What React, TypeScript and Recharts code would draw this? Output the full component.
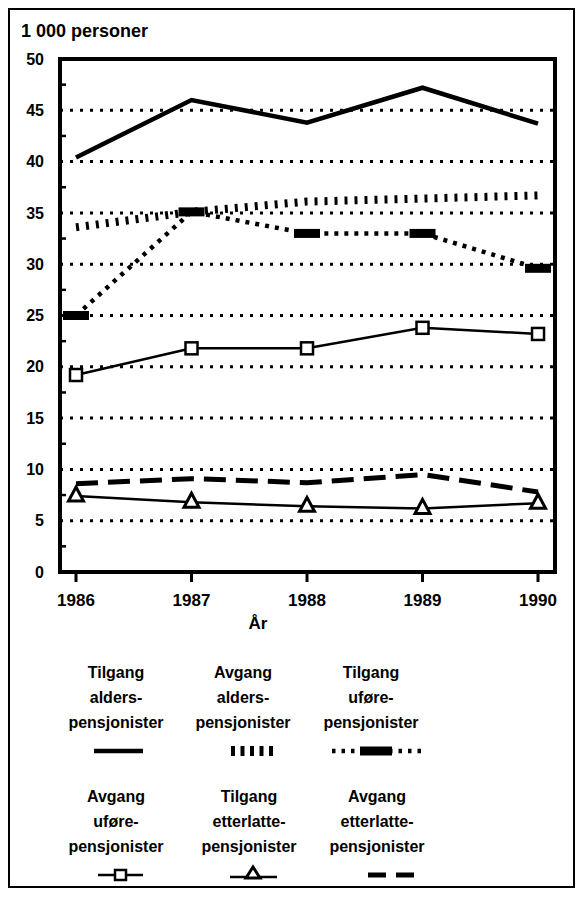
import React from 'react';
import { LineChart, Line, XAxis, YAxis, ReferenceLine, ReferenceArea } from 'recharts';

const years = [1986, 1987, 1988, 1989, 1990];
const tilgangAlders = [40.4, 46.0, 43.8, 47.2, 43.7];
const avgangAlders = [33.6, 35.1, 36.1, 36.4, 36.7];
const tilgangUfore = [25.0, 35.1, 33.0, 33.0, 29.6];
const avgangUfore = [19.2, 21.8, 21.8, 23.8, 23.2];
const tilgangEtterlatte = [7.4, 6.8, 6.4, 6.2, 6.7];
const avgangEtterlatte = [8.6, 9.1, 8.7, 9.5, 7.8];

const yTicks = [0, 2.5, 5, 7.5, 10, 12.5, 15, 17.5, 20, 22.5, 25, 27.5, 30, 32.5, 35, 37.5, 40, 42.5, 45, 47.5, 50];
const gridValues = [5, 10, 15, 20, 25, 30, 35, 40, 45];
const unitLabel = '1 000 personer';
const xTitle = 'År';

const legendLabels = [
  ['Tilgang', 'alders-', 'pensjonister'],
  ['Avgang', 'alders-', 'pensjonister'],
  ['Tilgang', 'uføre-', 'pensjonister'],
  ['Avgang', 'uføre-', 'pensjonister'],
  ['Tilgang', 'etterlatte-', 'pensjonister'],
  ['Avgang', 'etterlatte-', 'pensjonister'],
];

const data = years.map((y, i) => ({
  year: y,
  ta: tilgangAlders[i],
  aa: avgangAlders[i],
  tu: tilgangUfore[i],
  au: avgangUfore[i],
  te: tilgangEtterlatte[i],
  ae: avgangEtterlatte[i],
}));

const FONT = '"Liberation Sans", Arial, Helvetica, sans-serif';
const OFF = 10; // page offset of container content

const YTick = (props: any) => {
  const { x, y, payload } = props;
  const v = payload.value;
  const axisX = x + 16;
  if (v % 5 !== 0) {
    return <line x1={axisX} x2={axisX + 6} y1={y} y2={y} stroke="#000" strokeWidth={2.5} />;
  }
  return (
    <text x={x} y={y} dy="0.355em" textAnchor="end" fontFamily={FONT} fontWeight="bold" fontSize={16} fill="#000">
      {v}
    </text>
  );
};

const BarDot = (p: any) => {
  if (p.cx == null) return <g key={p.index} />;
  return <rect key={p.index} x={p.cx - 13} y={p.cy - 4.5} width={26} height={9} fill="#000" />;
};
const SquareDot = (p: any) => {
  if (p.cx == null) return <g key={p.index} />;
  return <rect key={p.index} x={p.cx - 6} y={p.cy - 6} width={12} height={12} fill="#fff" stroke="#000" strokeWidth={2.5} />;
};
const TriDot = (p: any) => {
  if (p.cx == null) return <g key={p.index} />;
  const { cx, cy } = p;
  return (
    <path key={p.index} d={`M${cx},${cy - 9} L${cx + 7.5},${cy + 5} L${cx - 7.5},${cy + 5} Z`} fill="#fff" stroke="#000" strokeWidth={3} />
  );
};

// legend layout (page coords)
const legendCols = [116, 243, 371];
const legendRows = [678, 802];
const symbolRows = [751, 875];

const LegendSymbol = ({ i, cx, cy }: { i: number; cx: number; cy: number }) => {
  const y = cy - OFF;
  switch (i) {
    case 0:
      return <line x1={94 - OFF} x2={143 - OFF} y1={y} y2={y} stroke="#000" strokeWidth={4.5} />;
    case 1:
      return <line x1={231 - OFF} x2={273 - OFF} y1={y} y2={y} stroke="#000" strokeWidth={10} strokeDasharray="4 5.5" />;
    case 2:
      return (
        <g>
          <line x1={332 - OFF} x2={427 - OFF} y1={y} y2={y} stroke="#000" strokeWidth={4.5} strokeDasharray="3.5 6" />
          <rect x={360 - OFF} y={y - 4.5} width={32} height={9} fill="#000" />
        </g>
      );
    case 3:
      return (
        <g>
          <line x1={98 - OFF} x2={143 - OFF} y1={y} y2={y} stroke="#000" strokeWidth={2.5} />
          <rect x={115 - OFF} y={y - 5} width={11} height={10} fill="#fff" stroke="#000" strokeWidth={2.5} />
        </g>
      );
    case 4:
      return (
        <g>
          <line x1={230 - OFF} x2={277 - OFF} y1={y + 2} y2={y + 2} stroke="#000" strokeWidth={2.5} />
          <path d={`M${253 - OFF},${y - 8} L${260 - OFF},${y + 3} L${246 - OFF},${y + 3} Z`} fill="#fff" stroke="#000" strokeWidth={3} />
        </g>
      );
    default:
      return <line x1={368 - OFF} x2={415 - OFF} y1={y} y2={y} stroke="#000" strokeWidth={5} strokeDasharray="18 10" />;
  }
};

export default function App() {
  return (
    <div style={{ position: 'relative', width: 567, height: 880, border: '2px solid #000', boxSizing: 'border-box', background: '#fff' }}>
      <div style={{ position: 'absolute', left: 0, top: 0 }}>
        <LineChart width={563} height={640} data={data} margin={{ top: 49, right: 18, bottom: 48, left: 0 }}>
          <XAxis
            dataKey="year"
            type="number"
            domain={[1985.8615, 1990.147]}
            ticks={years}
            allowDataOverflow
            axisLine={false}
            tickLine={{ stroke: '#000', strokeWidth: 3 }}
            tickSize={10}
            tickMargin={12}
            height={30}
            tick={{ fill: '#000', fontFamily: FONT, fontWeight: 'bold', fontSize: 17 }}
          />
          <YAxis
            type="number"
            domain={[0, 50]}
            ticks={yTicks}
            interval={0}
            width={50}
            axisLine={false}
            tickLine={false}
            tickSize={0}
            tickMargin={16}
            tick={<YTick />}
          />
          {gridValues.map((v) => (
            <ReferenceLine key={v} y={v} stroke="#000" strokeWidth={3} strokeDasharray="3 7" />
          ))}
          <ReferenceArea x1={1985.8615} x2={1990.147} y1={0} y2={50} fill="none" fillOpacity={0} stroke="#000" strokeWidth={4} />
          <Line dataKey="ta" stroke="#000" strokeWidth={4.5} dot={false} isAnimationActive={false} />
          <Line dataKey="aa" stroke="#000" strokeWidth={8} strokeDasharray="3 7" dot={false} isAnimationActive={false} />
          <Line dataKey="tu" stroke="#000" strokeWidth={4.5} strokeDasharray="4 6" dot={BarDot} isAnimationActive={false} />
          <Line dataKey="au" stroke="#000" strokeWidth={2.5} dot={SquareDot} isAnimationActive={false} />
          <Line dataKey="ae" stroke="#000" strokeWidth={5} strokeDasharray="22 10" dot={false} isAnimationActive={false} />
          <Line dataKey="te" stroke="#000" strokeWidth={2.5} dot={TriDot} isAnimationActive={false} />
        </LineChart>
      </div>
      <svg width={563} height={876} style={{ position: 'absolute', left: 0, top: 0, pointerEvents: 'none' }}>
        <text x={21 - OFF} y={37 - OFF} fontFamily={FONT} fontWeight="bold" fontSize={18} fill="#000">
          {unitLabel}
        </text>
        <text x={258 - OFF} y={629 - OFF} textAnchor="middle" fontFamily={FONT} fontWeight="bold" fontSize={17} fill="#000">
          {xTitle}
        </text>
        {legendLabels.map((lines, i) => {
          const col = i % 3;
          const row = Math.floor(i / 3);
          const cx = legendCols[col] + (row === 1 && col > 0 ? 6 : 0);
          return (
            <g key={i}>
              {lines.map((t, k) => (
                <text
                  key={k}
                  x={cx - OFF}
                  y={legendRows[row] + k * 25 - OFF}
                  textAnchor="middle"
                  fontFamily={FONT}
                  fontWeight="bold"
                  fontSize={16}
                  fill="#000"
                >
                  {t}
                </text>
              ))}
              <LegendSymbol i={i} cx={cx} cy={symbolRows[row]} />
            </g>
          );
        })}
      </svg>
    </div>
  );
}
